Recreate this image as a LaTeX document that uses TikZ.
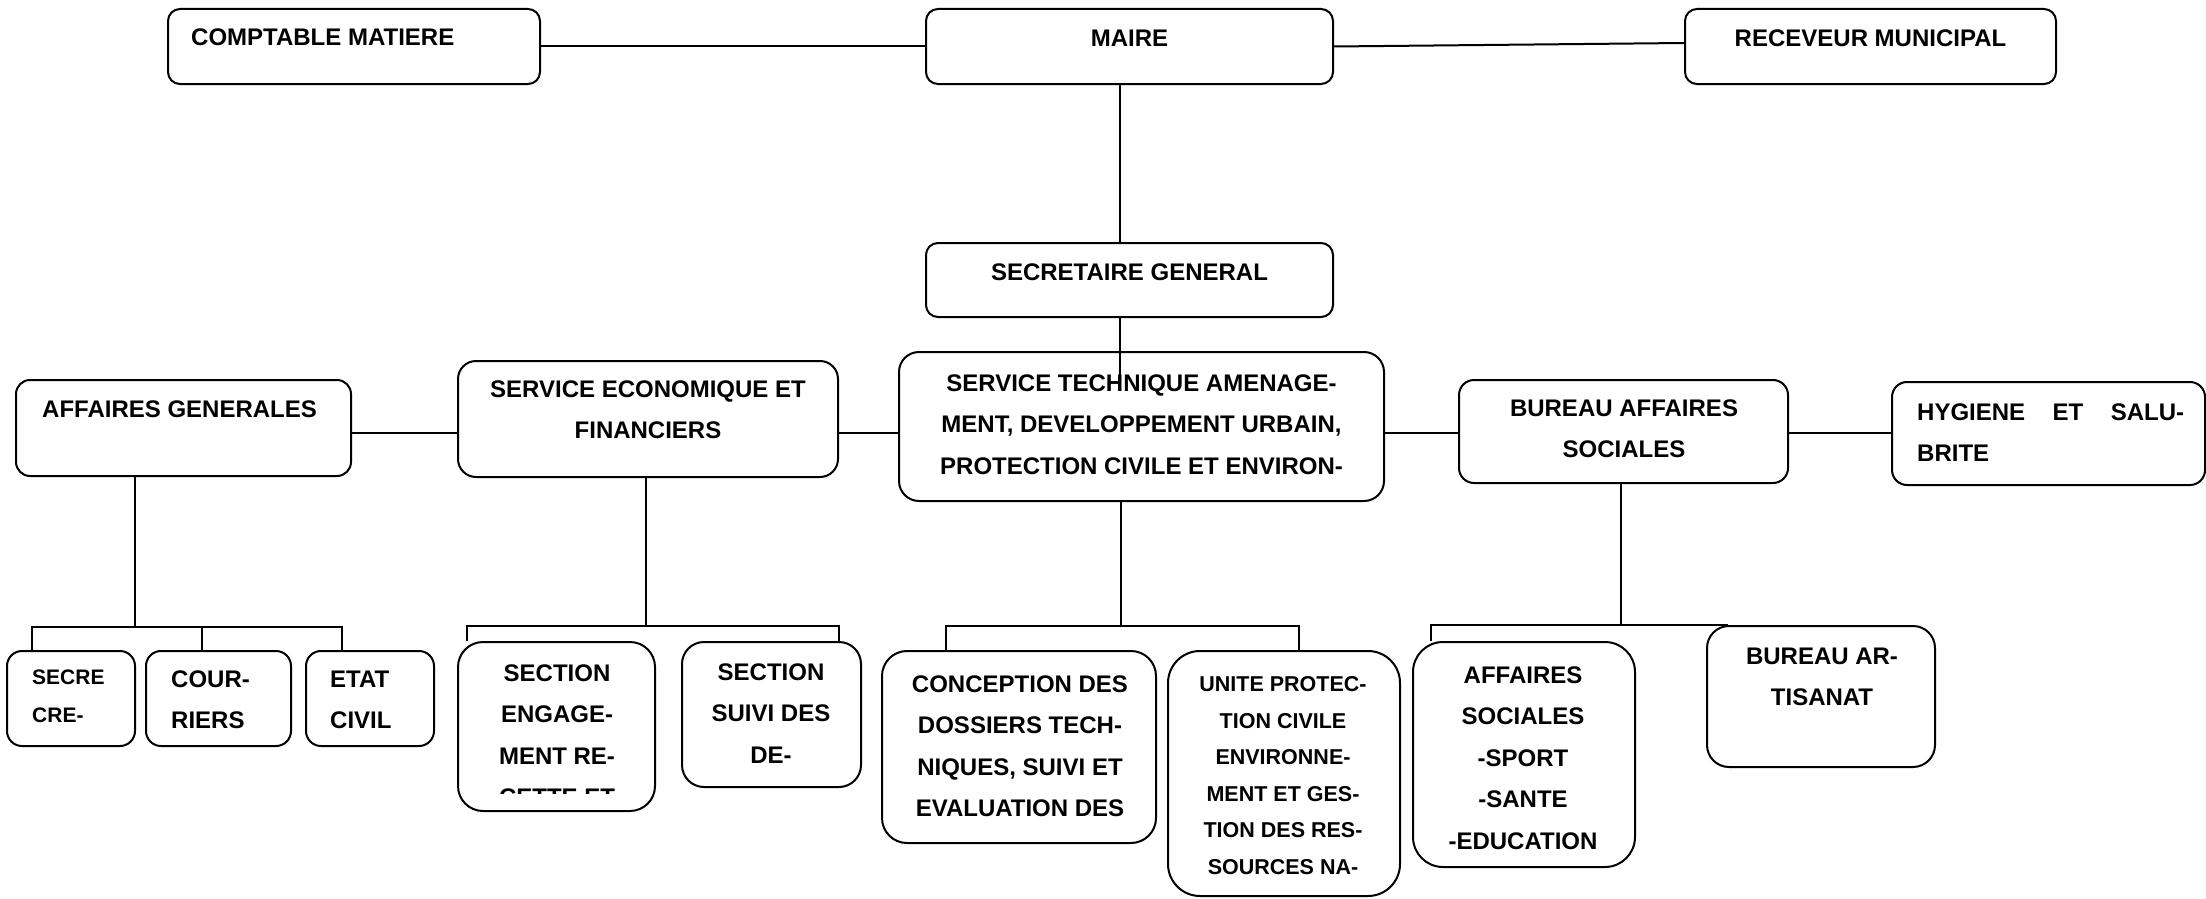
\documentclass[tikz,border=0pt]{standalone}
\usepackage{fontspec}
\setmainfont{Liberation Sans}
\usetikzlibrary{backgrounds}

\tikzset{
  orgbox/.style={draw, line width=2pt, rounded corners=14pt, fill=white, inner sep=0pt},
  orgtext/.style={font=\fontsize{24}{41.5}\selectfont\bfseries, inner sep=0pt, align=center, anchor=north},
  orgleft/.style={orgtext, align=left, anchor=north west},
  orgline/.style={line width=2pt},
}

\begin{document}
\begin{tikzpicture}[x=1pt, y=-1pt]
\useasboundingbox (0,0) rectangle (2206,899);

\node[orgbox, rounded corners=12pt, minimum width=372pt, minimum height=75pt] (comptable) at (354,46.5) {};
\node[orgbox, rounded corners=12pt, minimum width=407pt, minimum height=75pt] (maire) at (1129.5,46.5) {};
\node[orgbox, rounded corners=12pt, minimum width=371pt, minimum height=75pt] (receveur) at (1870.5,46.5) {};
\node[orgbox, rounded corners=12pt, minimum width=407pt, minimum height=74pt] (sg) at (1129.5,280) {};

\node[orgbox, minimum width=335pt, minimum height=96pt] (ag) at (183.5,428) {};
\node[orgbox, rounded corners=18pt, minimum width=380pt, minimum height=116pt] (se) at (648,419) {};
\node[orgbox, rounded corners=20pt, minimum width=485pt, minimum height=149pt] (st) at (1141.5,426.5) {};
\node[orgbox, rounded corners=15pt, minimum width=329pt, minimum height=103pt] (bas) at (1623.5,431.5) {};
\node[orgbox, rounded corners=15pt, minimum width=313pt, minimum height=103pt] (hyg) at (2048.5,433.5) {};

\node[orgbox, rounded corners=15pt, minimum width=128pt, minimum height=95pt] (secre) at (71,698.5) {};
\node[orgbox, rounded corners=15pt, minimum width=145pt, minimum height=95pt] (cour) at (218.5,698.5) {};
\node[orgbox, rounded corners=15pt, minimum width=128pt, minimum height=95pt] (etat) at (370,698.5) {};
\node[orgbox, rounded corners=25pt, minimum width=197pt, minimum height=169pt] (seng) at (556.5,726.5) {};
\node[orgbox, rounded corners=22pt, minimum width=179pt, minimum height=145pt] (ssuivi) at (771.5,714.5) {};
\node[orgbox, rounded corners=25pt, minimum width=274pt, minimum height=192pt] (concep) at (1019,747) {};
\node[orgbox, rounded corners=32pt, minimum width=232pt, minimum height=245pt] (unite) at (1284,773.5) {};
\node[orgbox, rounded corners=30pt, minimum width=222pt, minimum height=225pt] (asoc) at (1524,754.5) {};
\node[orgbox, rounded corners=22pt, minimum width=228pt, minimum height=141pt] (artis) at (1821,696.5) {};

\node[orgleft] (comptabletxt) at (191,28.4) {COMPTABLE MATIERE};
\node[orgtext] (mairetxt) at (1129.5,29.4) {MAIRE};
\node[orgtext] (receveurtxt) at (1870.5,29.4) {RECEVEUR MUNICIPAL};
\node[orgtext] (sgtxt) at (1129.5,263.4) {SECRETAIRE GENERAL};

\node[orgleft] (agtxt) at (42,400.4) {AFFAIRES GENERALES};
\node[orgtext] (setxt) at (648,380.4) {SERVICE ECONOMIQUE ET\\FINANCIERS};
\node[orgtext] (sttxt) at (1141.5,374.4) {SERVICE TECHNIQUE AMENAGE-\\MENT, DEVELOPPEMENT URBAIN,\\PROTECTION CIVILE ET ENVIRON-};
\node[orgtext] (bastxt) at (1624,399.4) {BUREAU AFFAIRES\\SOCIALES};
\node[orgleft, text width=267pt] (hygtxt) at (1917,403.4) {HYGIENE\hfill ET\hfill SALU-\\BRITE};

\node[orgleft, font=\fontsize{21}{38}\selectfont\bfseries] (secretxt) at (32,669.5) {SECRE\\CRE-};
\node[orgleft] (courtxt) at (171,670.4) {COUR-\\RIERS};
\node[orgleft] (etattxt) at (330,670.4) {ETAT\\CIVIL};
\begin{scope}
\clip (seng.north west) rectangle ([yshift=19pt]seng.south east);
\node[orgtext] (sengtxt) at (557,664.4) {SECTION\\ENGAGE-\\MENT RE-\\CETTE ET};
\end{scope}
\node[orgtext] (ssuivitxt) at (771,663.4) {SECTION\\SUIVI DES\\DE-};
\node[orgtext] (conceptxt) at (1020,675.4) {CONCEPTION DES\\DOSSIERS TECH-\\NIQUES, SUIVI ET\\EVALUATION DES};
\node[orgtext, font=\fontsize{21.5}{36.6}\selectfont\bfseries] (unitetxt) at (1283,676.3) {UNITE PROTEC-\\TION CIVILE\\ENVIRONNE-\\MENT ET GES-\\TION DES RES-\\SOURCES NA-};
\node[orgtext] (asoctxt) at (1523,666.4) {AFFAIRES\\SOCIALES\\-SPORT\\-SANTE\\-EDUCATION};
\node[orgtext] (artistxt) at (1822,647.4) {BUREAU AR-\\TISANAT};

\begin{scope}[on background layer={orgline}]
\draw (comptable) -- (maire);
\draw (maire.east) -- ([yshift=3.5pt]receveur.west);
\draw ([xshift=-9.5pt]maire.south) -- ([xshift=-9.5pt]sg.north);

\coordinate (row) at (0,432.5);
\draw (ag.east |- row) -- (se.west |- row);
\draw (se.east |- row) -- (st.west |- row);
\draw (st.east |- row) -- (bas.west |- row);
\draw (bas.east |- row) -- (hyg.west |- row);

\coordinate (agbus) at (135,627);
\coordinate (agM) at ([xshift=-16.5pt]cour.north);
\coordinate (agR) at ([xshift=-28pt]etat.north);
\draw ([xshift=-48.5pt]ag.south) -- (agbus);
\draw ([xshift=-39pt]secre.north) |- (agR |- agbus) -- (agR);
\draw (agM) -- (agM |- agbus);

\coordinate (sebus) at (646,626);
\coordinate (seR) at ([xshift=-23.5pt]ssuivi.north east);
\draw (se.south -| sebus) -- (sebus);
\draw ([xshift=10pt]seng.north west) |- (seR |- sebus) -- (seR);

\coordinate (stbus) at (1121,626);
\coordinate (stR) at ([xshift=15pt]unite.north);
\draw (st.south -| stbus) -- (stbus);
\draw ([xshift=-73pt]concep.north) |- (stR |- stbus) -- (stR);

\coordinate (basbus) at (1621,626);
\draw (bas.south -| basbus) -- (basbus);
\draw ([xshift=19pt]asoc.north west) |- ([xshift=22pt]artis.north west);
\end{scope}

\coordinate (stjoin) at (1120,377);
\draw[orgline] ([xshift=-9.5pt]sg.south) -- (stjoin);
\end{tikzpicture}
\end{document}
